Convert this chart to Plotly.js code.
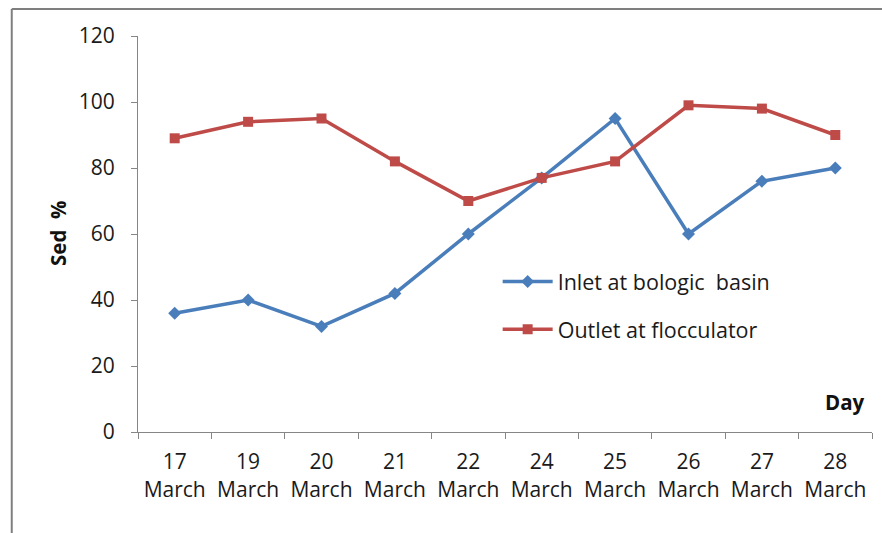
<!DOCTYPE html>
<html>
<head>
<meta charset="utf-8">
<script src="https://cdn.plot.ly/plotly-3.0.1.min.js"></script>
<style>html,body{margin:0;padding:0;background:#fff;}#chart{width:882px;height:533px;}</style>
</head>
<body>
<div id="chart"></div>
<script>
const days = ["17<br>March","19<br>March","20<br>March","21<br>March","22<br>March","24<br>March","25<br>March","26<br>March","27<br>March","28<br>March"];
const inletValues = [36, 40, 32, 42, 60, 77, 95, 60, 76, 80];
const outletValues = [89, 94, 95, 82, 70, 77, 82, 99, 98, 90];
const seriesNames = ["Inlet at bologic  basin", "Outlet at flocculator"];
const yTicks = [0, 20, 40, 60, 80, 100, 120];

const FONT = "Open Sans, Liberation Sans, sans-serif";
const axisGray = "#868686";

const traces = [
  {
    x: days, y: inletValues, name: seriesNames[0], legendgroup: "a",
    type: "scatter", mode: "lines+markers",
    line: {color: "#4A7EBB", width: 3.5},
    marker: {symbol: "diamond", size: 10, color: "#4A7EBB"}
  },
  {
    x: days, y: outletValues, name: seriesNames[1], legendgroup: "b",
    type: "scatter", mode: "lines+markers",
    line: {color: "#BE4B48", width: 3.5},
    marker: {symbol: "square", size: 10, color: "#BE4B48"}
  }
];

const layout = {
  width: 882, height: 533,
  margin: {l: 138, r: 10, t: 36, b: 101},
  paper_bgcolor: "#fff", plot_bgcolor: "#fff",
  font: {family: FONT, size: 20, color: "#1a1a1a"},
  showlegend: true,
  legend: {
    x: 0.49, y: 0.432, xanchor: "left", yanchor: "top",
    bgcolor: "rgba(0,0,0,0)", font: {family: FONT, size: 21.5, color: "#1a1a1a"},
    tracegroupgap: 17, itemwidth: 50
  },
  xaxis: {
    type: "category", tickson: "boundaries", range: [-0.5, 9.5],
    showline: true, linecolor: axisGray, linewidth: 1,
    ticks: "outside", ticklen: 6, tickcolor: axisGray,
    showgrid: false, zeroline: false, fixedrange: true,
    tickangle: 0, ticklabelstandoff: 11,
    tickfont: {family: FONT, size: 21, color: "#1a1a1a"}
  },
  yaxis: {
    range: [0, 120], tickvals: yTicks,
    showline: true, linecolor: axisGray, linewidth: 1,
    ticks: "outside", ticklen: 6, tickcolor: axisGray,
    showgrid: false, zeroline: false, fixedrange: true,
    ticklabelstandoff: 12,
    tickfont: {family: FONT, size: 21, color: "#1a1a1a"}
  },
  annotations: [
    {text: "<b>Sed  %</b>", xref: "paper", yref: "paper", x: -0.109, y: 0.5025,
     textangle: -90, showarrow: false, font: {family: FONT, size: 20.5, color: "#111"},
     xanchor: "center", yanchor: "middle"},
    {text: "<b>Day</b>", xref: "paper", yref: "paper", x: 0.963, y: 0.0758,
     showarrow: false, font: {family: FONT, size: 20.5, color: "#111"},
     xanchor: "center", yanchor: "middle"}
  ],
  shapes: [
    {type: "line", xref: "paper", yref: "paper", x0: -0.172, x1: -0.172, y0: 1.068, y1: -0.26,
     line: {color: "#7f7f7f", width: 2}},
    {type: "line", xref: "paper", yref: "paper", x0: -0.172, x1: 1.02, y0: 1.068, y1: 1.068,
     line: {color: "#7f7f7f", width: 2}}
  ]
};

Plotly.newPlot("chart", traces, layout, {displayModeBar: false, staticPlot: true});
</script>
</body>
</html>
